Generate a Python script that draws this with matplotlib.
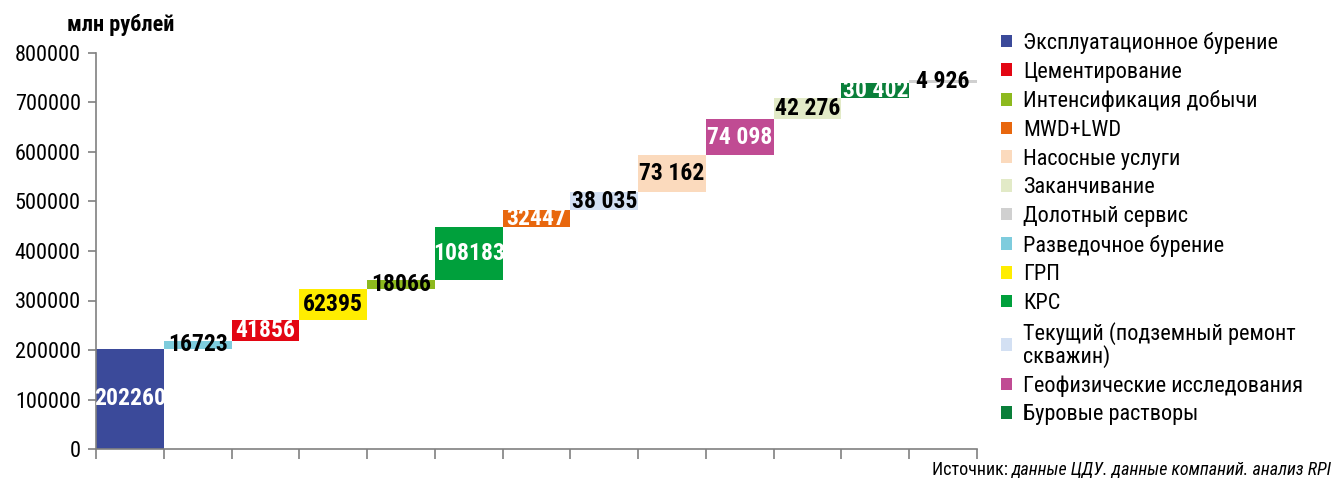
import numpy as np
import matplotlib
matplotlib.use("Agg")
import matplotlib.pyplot as plt
from matplotlib.patches import Patch

# Market segments, in the order the waterfall stacks them
categories = [
    "Эксплуатационное бурение", "Разведочное бурение", "Цементирование", "ГРП",
    "Интенсификация добычи", "КРС", "MWD+LWD",
    "Текущий (подземный ремонт\nскважин)", "Насосные услуги",
    "Геофизические исследования", "Заканчивание", "Буровые растворы",
    "Долотный сервис",
]
values = [202260, 16723, 41856, 62395, 18066, 108183, 32447,
          38035, 73162, 74098, 42276, 30402, 4926]
colors = ["#3B4A9A", "#7ECCDD", "#E30613", "#FFED00", "#8DB91E", "#00A03C",
          "#E8670E", "#D3E0F3", "#FBDABD", "#C04B93", "#E2EAC7", "#0A7F3A",
          "#D0D0D0"]
label_colors = ["white", "black", "white", "black", "black", "white", "white",
                "black", "black", "white", "black", "white", "black"]
# later segments print with a thousands separator
label_spaced = [False] * 7 + [True] * 6

legend_order = [
    "Эксплуатационное бурение", "Цементирование", "Интенсификация добычи",
    "MWD+LWD", "Насосные услуги", "Заканчивание", "Долотный сервис",
    "Разведочное бурение", "ГРП", "КРС",
    "Текущий (подземный ремонт\nскважин)", "Геофизические исследования",
    "Буровые растворы",
]

yticks = list(range(0, 800001, 100000))
ylabel = "млн рублей"
source_prefix = "Источник: "
source_body = "данные ЦДУ. данные компаний. анализ RPI"

FONT = ["Roboto Condensed", "DejaVu Sans"]
plt.rcParams["font.family"] = FONT

W, H = 1339, 478
fig = plt.figure(figsize=(W / 100, H / 100), dpi=100)
ax = fig.add_axes([96 / W, 29 / H, 881 / W, 396 / H])

vals = np.array(values, dtype=float)
bottoms = np.concatenate([[0], np.cumsum(vals)[:-1]])
x = np.arange(len(vals))

ax.bar(x, vals, bottom=bottoms, width=1.0, color=colors, linewidth=0)

for xi, b, v, c, sp in zip(x, bottoms, vals, label_colors, label_spaced):
    txt = f"{int(v):,}".replace(",", " ") if sp else f"{int(v)}"
    ax.text(xi, b + v / 2, txt, ha="center", va="center", color=c,
            fontsize=17, fontweight="bold")

ax.set_xlim(-0.5, len(vals) - 0.5)
ax.set_ylim(0, 800000)
ax.set_yticks(yticks)
ax.set_yticklabels([str(t) for t in yticks])
ax.set_xticks(np.arange(len(vals) + 1) - 0.5)
ax.set_xticklabels([])

for s in ["top", "right"]:
    ax.spines[s].set_visible(False)
for s in ["left", "bottom"]:
    ax.spines[s].set_color("#808080")
    ax.spines[s].set_linewidth(1.2)
ax.tick_params(axis="y", length=6, width=1.2, color="#808080",
               labelsize=16, pad=5)
ax.tick_params(axis="x", length=7, width=1.2, color="#808080")

fig.text(67 / W, 1 - 25 / H, ylabel, fontsize=16, fontweight="bold",
         va="center", ha="left")

color_of = dict(zip(categories, colors))
handles = [Patch(facecolor=color_of[n], edgecolor="none", label=n)
           for n in legend_order]
leg = fig.legend(handles=handles, loc="upper left",
                 bbox_to_anchor=(1001 / W, 1 - 32 / H), frameon=False,
                 fontsize=16, handlelength=0.5, handleheight=0.5,
                 handletextpad=0.5, labelspacing=0.345, borderaxespad=0,
                 borderpad=0)
for t in leg.get_texts():
    t.set_linespacing(1.0)

t1 = fig.text(1332 / W, 1 - 470 / H, source_body, ha="right",
              va="center", fontsize=13, style="italic")
fig.canvas.draw()
bb = t1.get_window_extent()
fig.text(bb.x0 / fig.bbox.width, 1 - 470 / H, source_prefix, ha="right",
         va="center", fontsize=13)

fig.savefig("out.png", dpi=100)
